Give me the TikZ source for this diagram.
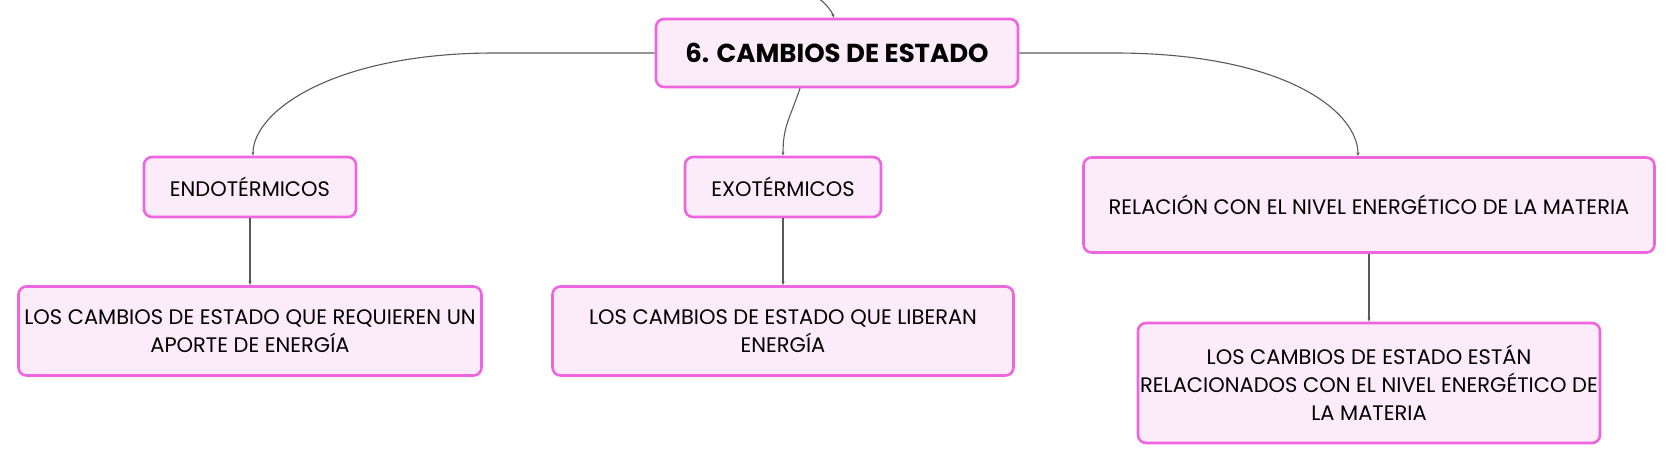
\documentclass[tikz,border=0pt]{standalone}
\usepackage{fontspec}
\setmainfont{Poppins}
\usetikzlibrary{arrows.meta,calc}
\definecolor{borde}{HTML}{EE66DD}
\definecolor{relleno}{HTML}{FCEBF9}
\definecolor{linea}{HTML}{5A5A5A}

\begin{document}
\begin{tikzpicture}[x=1pt,y=-1pt]
				\tikzstyle{caja}=[draw=borde,fill=relleno,line width=2.6pt,rounded corners=8pt,
				align=center,text=black,inner sep=0pt,font=\fontsize{21}{28}\selectfont]
				\tikzstyle{tema}=[caja,font=\fontsize{26}{30}\selectfont\bfseries]
				\tikzstyle{con}=[draw=linea,line width=1.1pt,-{Stealth[length=4pt,width=3pt]}]
				\useasboundingbox (0,0) rectangle (1676,465);
				\node[tema,minimum width=362,minimum height=68] (main) at (837,53) {6. CAMBIOS DE ESTADO};
				\node[caja,minimum width=212,minimum height=60] (endo) at (250,187) {ENDOTÉRMICOS};
				\node[caja,minimum width=196,minimum height=60] (exo) at (783,187) {EXOTÉRMICOS};
				\node[caja,minimum width=571,minimum height=95] (rel) at (1369,205) {RELACIÓN CON EL NIVEL ENERGÉTICO DE LA MATERIA};
				\node[caja,minimum width=463,minimum height=89] (req) at (250,331) {LOS CAMBIOS DE ESTADO QUE REQUIEREN UN\\APORTE DE ENERGÍA};
				\node[caja,minimum width=461,minimum height=89] (lib) at (783,331) {LOS CAMBIOS DE ESTADO QUE LIBERAN\\ENERGÍA};
				\node[caja,minimum width=462,minimum height=120] (est) at (1369,383) {LOS CAMBIOS DE ESTADO ESTÁN\\RELACIONADOS CON EL NIVEL ENERGÉTICO DE\\LA MATERIA};
				\coordinate (arriba) at (818,-2);
				% conectores
				\draw[con] (arriba) .. controls +(6,4) and +(-3,-8) .. ($(main.north)+(-3,0)$);
				\draw[con] (main.west) -- ++(-160,0) .. controls +(-160,0) and +(0,-45) .. ($(endo.north)+(3,0)$);
				\draw[con] (main.east) -- ++(95,0) .. controls +(170,0) and +(0,-45) .. ($(rel.north)+(-11,0)$);
				\draw[con] ($(main.south)+(-37,0)$) .. controls +(-10,30) and +(0,-30) .. (exo.north);
				\draw[con] (endo.south) -- (req.north);
				\draw[con] (exo.south) -- (lib.north);
				\draw[con] (rel.south) -- (est.north);
\end{tikzpicture}
\end{document}
